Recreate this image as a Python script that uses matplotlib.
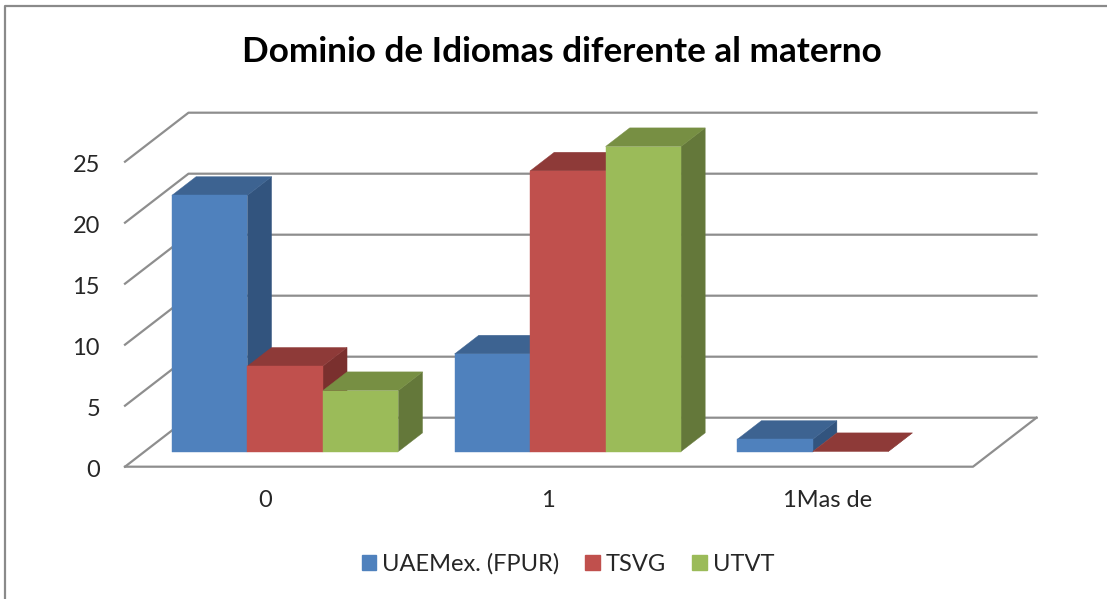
#!/usr/bin/env python3
# -*- coding: utf-8 -*-
"""
Excel style 3D clustered columns, drawn with an oblique projection on 2D axes.
"""

import numpy as np
import matplotlib
matplotlib.use("Agg")
import matplotlib.pyplot as plt
from matplotlib.lines import Line2D
from matplotlib.patches import Patch, Polygon
from matplotlib.transforms import ScaledTranslation

plt.rcParams["font.family"] = ["Lato", "DejaVu Sans"]

title = "Dominio de Idiomas diferente al materno"
categories = ["0", "1", "1Mas de"]
y_ticks = [0, 5, 10, 15, 20, 25]
series_names = ["UAEMex. (FPUR)", "TSVG", "UTVT"]
uaemex = [21, 8, 1]
tsvg = [7, 23, 0]
utvt = [5, 25, np.nan]

front_colors = ["#4F81BD", "#C0504D", "#9BBB59"]
top_colors = ["#3D6391", "#8E3A38", "#778F43"]
side_colors = ["#32547E", "#7A302E", "#64783A"]
grid_color = "#8E8E8E"

W, H = 1107, 599
# front plane of the chart box, in pixels
LEFT, RIGHT, FLOOR, TOP = 125, 973, 466.7, 161.7
# shift of the back wall, in data units (63.5 px right, 49 px up)
DEPTH_X = 63.5 / ((RIGHT - LEFT) / 3)
DEPTH_Y = 49 / ((FLOOR - TOP) / 25)
BAR_W = 0.267
D0, D1 = 0.31, 0.69  # bars sit in the middle of the depth


def proj(x, y, d):
    return (x + d * DEPTH_X, y + d * DEPTH_Y)


def add_poly(ax, pts, color, z):
    ax.add_patch(Polygon(pts, closed=True, facecolor=color, edgecolor=color,
                         linewidth=0.3, clip_on=False, zorder=z))


def draw_bar(ax, x0, value, i, z):
    x1 = x0 + BAR_W
    # side
    add_poly(ax, [proj(x1, 0, D0), proj(x1, 0, D1), proj(x1, value, D1), proj(x1, value, D0)],
             side_colors[i], z)
    # top
    add_poly(ax, [proj(x0, value, D0), proj(x1, value, D0), proj(x1, value, D1), proj(x0, value, D1)],
             top_colors[i], z + 0.1)
    # front
    if value > 0:
        add_poly(ax, [proj(x0, 0, D0), proj(x1, 0, D0), proj(x1, value, D0), proj(x0, value, D0)],
                 front_colors[i], z + 0.2)


def main():
    fig = plt.figure(figsize=(W / 100, H / 100), dpi=100)
    ax = fig.add_axes([LEFT / W, 1 - FLOOR / H, (RIGHT - LEFT) / W, (FLOOR - TOP) / H])
    ax.set_xlim(-0.5, 2.5)
    ax.set_ylim(0, 25)
    for s in ax.spines.values():
        s.set_visible(False)
    ax.patch.set_visible(False)

    # walls: left diagonal + back line for each tick
    for v in y_ticks:
        xs, ys = zip(proj(-0.5, v, 0), proj(-0.5, v, 1), proj(2.5, v, 1))
        ax.plot(xs, ys, color=grid_color, lw=1.6, clip_on=False, zorder=1)
    # floor front edge and right diagonal
    xs, ys = zip(proj(-0.5, 0, 0), proj(2.5, 0, 0), proj(2.5, 0, 1))
    ax.plot(xs, ys, color=grid_color, lw=1.6, clip_on=False, zorder=1)

    # columns
    z = 2
    for c in range(len(categories)):
        start = c - 1.5 * BAR_W - 0.003
        for i, values in enumerate([uaemex, tsvg, utvt]):
            if not np.isnan(values[c]):
                draw_bar(ax, start + i * BAR_W, values[c], i, z)
            z += 1

    ax.set_xticks(range(len(categories)), categories)
    ax.set_yticks(y_ticks)
    ax.tick_params(axis="both", length=0, labelsize=17, labelcolor="#262626")
    ax.tick_params(axis="x", pad=16.5)
    ax.tick_params(axis="y", pad=18)

    # labels sit a little off the tick positions in the original
    for lab, dx in zip(ax.get_xticklabels(), [-1, -1, -4]):
        lab.set_transform(lab.get_transform() + ScaledTranslation(dx / 100, 0, fig.dpi_scale_trans))
    for lab in ax.get_yticklabels():
        lab.set_transform(lab.get_transform() + ScaledTranslation(0, -1.5 / 100, fig.dpi_scale_trans))

    handles = [Patch(facecolor=c, edgecolor=c, label=n) for c, n in zip(front_colors, series_names)]
    fig.legend(handles=handles, loc="center", bbox_to_anchor=(568 / W, 1 - 564 / H), ncol=3,
               frameon=False, fontsize=17, handlelength=0.62, handleheight=0.62,
               handletextpad=0.25, columnspacing=1.1, labelcolor="#262626")

    fig.text(562 / W, 1 - 52 / H, title, ha="center", va="center",
             fontsize=25.3, fontweight="bold", color="black")

    # chart frame, only top and left show in the crop
    fig.add_artist(Line2D([5 / W, 5 / W, 1], [0, 1 - 6 / H, 1 - 6 / H],
                          color="#8A8A8A", lw=1.6))

    fig.savefig("out.png", dpi=100)


if __name__ == "__main__":
    main()
